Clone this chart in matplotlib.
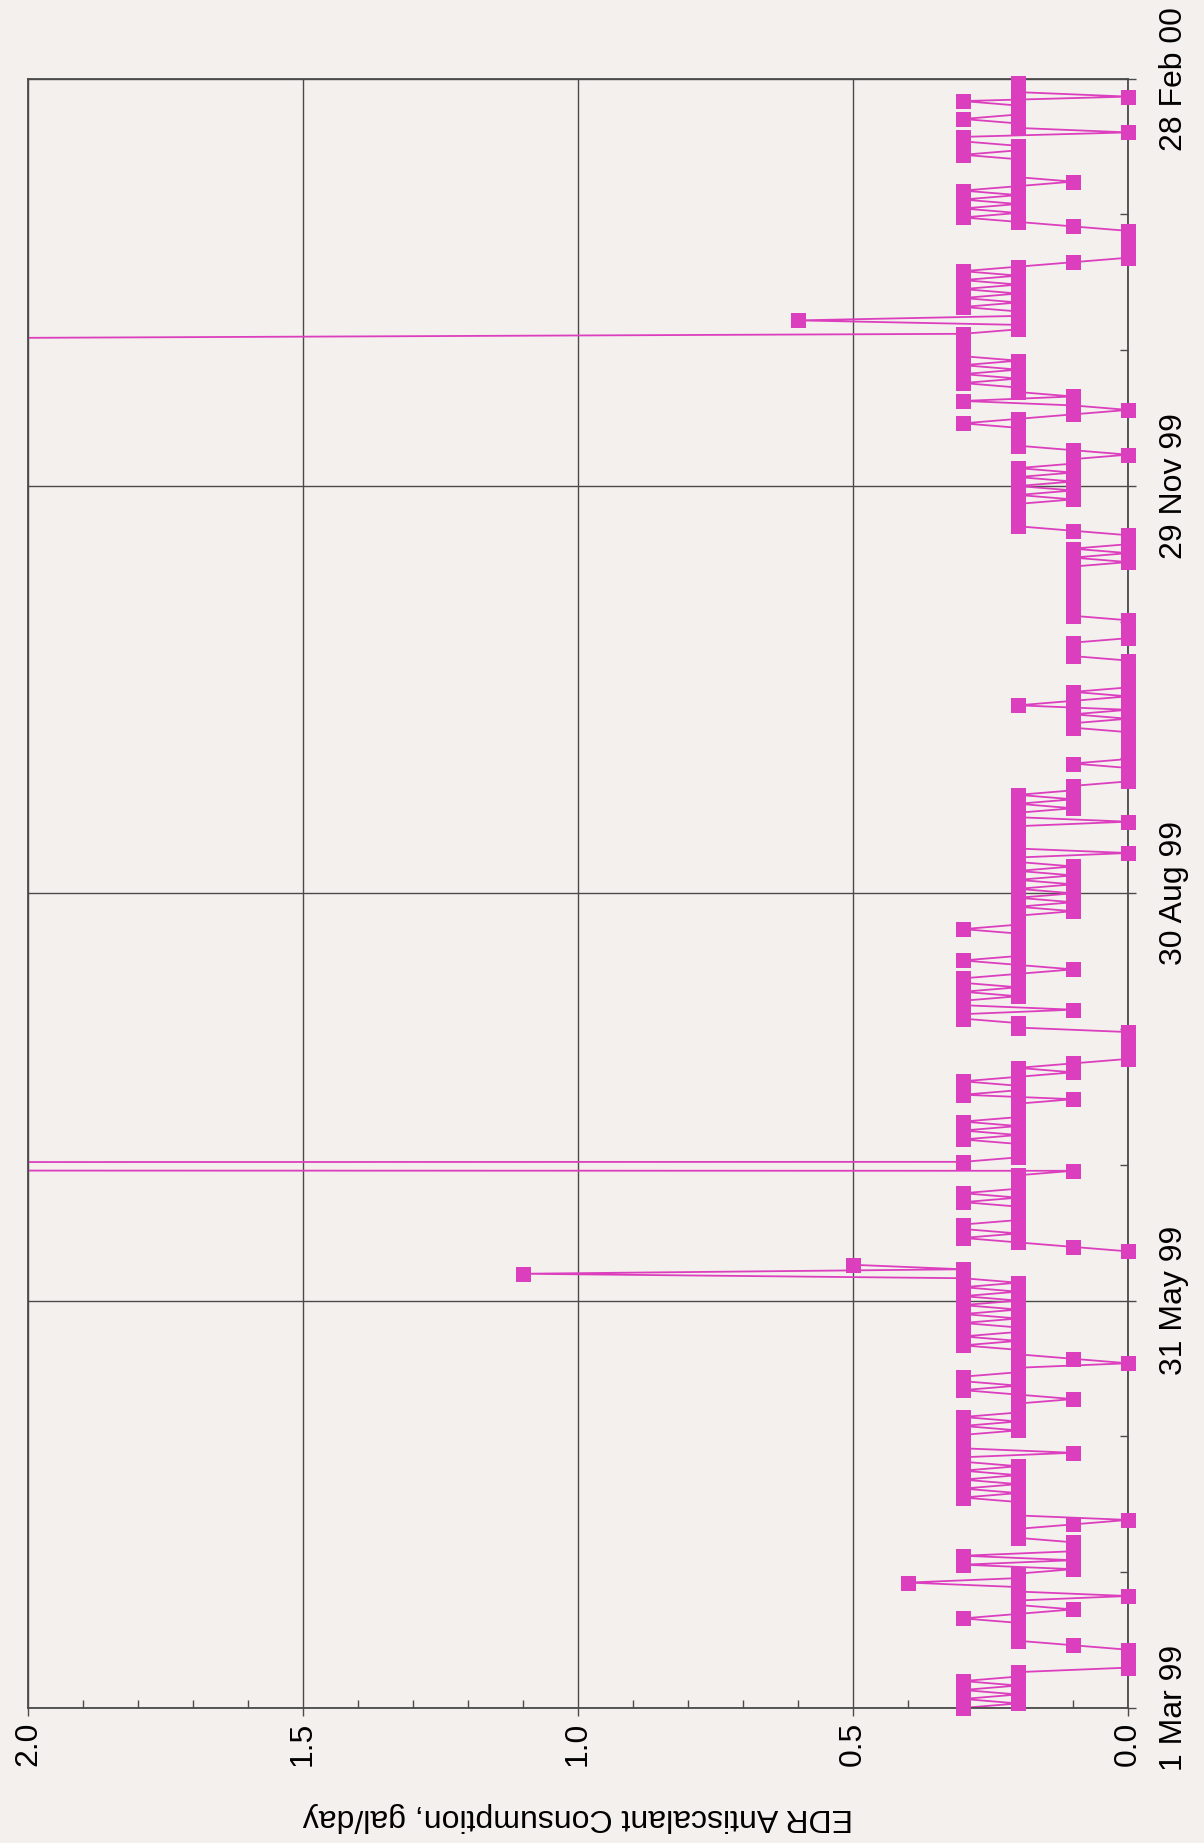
import numpy as np
import matplotlib
matplotlib.use("Agg")
from matplotlib import pyplot as plt
from matplotlib.ticker import MultipleLocator

plt.rcParams['font.family'] = ['Liberation Sans', 'DejaVu Sans']

# dates run up the page, consumption runs right to left (page turned sideways)
date_ticks = [0, 91, 182, 273, 364]
date_labels = ["1 Mar 99", "31 May 99", "30 Aug 99", "29 Nov 99", "28 Feb 00"]
gal_ticks = [0.0, 0.5, 1.0, 1.5, 2.0]
nan = np.nan

# daily consumption, gal/day, one value per day from 1 Mar 99
mar_may = [0.3, 0.2, 0.3, 0.2, 0.3, 0.2, 0.3, 0.2, 0.2,
           0.0, 0.0, 0.0, 0.0, 0.0, 0.1,
           0.2, 0.2, 0.2, 0.2, 0.2,
           0.3, 0.2, 0.1, 0.2, 0.2, 0.0, 0.2, 0.2, 0.4, 0.2, 0.2,
           0.1, 0.3, 0.1, 0.3, 0.1, 0.1, 0.1, 0.2, 0.2, 0.2, 0.1, 0.0, 0.2, 0.2,
           0.2, 0.2, 0.3, 0.2, 0.3, 0.2, 0.3, 0.2, 0.3, 0.2,
           0.3, 0.3, 0.1, 0.3, 0.3, 0.3, 0.3,
           0.2, 0.3, 0.2, 0.3, 0.2,
           0.2, 0.2, 0.1, 0.2, 0.3, 0.2, 0.3, 0.3, 0.2,
           0.2, 0.0, 0.1, 0.2, 0.2, 0.3, 0.2, 0.3,
           0.2, 0.2, 0.3, 0.2, 0.3, 0.2, 0.3]
jun_aug = [0.2, 0.3, 0.2, 0.3, 0.2,
           0.3, 1.1, 0.3, 0.5, nan, nan, 0.0, 0.1, 0.2,
           0.3, 0.2, 0.3, 0.3, 0.2, 0.2, 0.2, 0.2, 0.3, 0.2, 0.3, 0.2, 0.2, 0.2, 0.2, 0.1,
           40.0, 0.3, 0.2, 0.2, 0.2, 0.2, 0.3, 0.2, 0.3, 0.2,
           0.3, 0.2, 0.2, 0.2, 0.2, 0.1, 0.3, 0.2, 0.2, 0.3, 0.2, 0.1, 0.2, 0.1,
           0.0, 0.0, 0.0, 0.0, 0.0, 0.0, 0.0,
           0.2, 0.2, 0.3, 0.3, 0.1, 0.3, 0.3, 0.2, 0.3, 0.2, 0.3, 0.3, 0.2, 0.1, 0.2,
           0.3, 0.2, 0.2, 0.2, 0.2, 0.2, 0.2, 0.3, 0.2, 0.2, 0.2, 0.1, 0.2, 0.1, 0.2]
sep_nov = [0.1, 0.2, 0.1, 0.2, 0.1, 0.2, 0.1, 0.2, 0.2,
           0.0, 0.2, 0.2, 0.2, 0.2, 0.2, 0.2, 0.0, 0.2, 0.2,
           0.1, 0.2, 0.1, 0.2, 0.1, 0.1, 0.0, 0.0, 0.0, 0.0,
           0.1, 0.0, 0.0, 0.0, 0.0, 0.0, 0.0, 0.0, 0.1, 0.1,
           0.0, 0.1, 0.0, 0.2, 0.1, 0.0, 0.1, 0.0, 0.0, 0.0,
           0.0, 0.0, 0.0, 0.0, 0.1, 0.1, 0.1, 0.1, 0.0, 0.0,
           0.0, 0.0, 0.0, 0.1, 0.1, 0.1, 0.1, 0.1, 0.1, 0.1,
           0.1, 0.1, 0.1, 0.1, 0.1, 0.0, 0.1, 0.0, 0.1, 0.0,
           0.0, 0.0, 0.1, 0.2, 0.2, 0.2, 0.2, 0.2, 0.2, 0.1, 0.2, 0.1]
dec_feb = [0.2, 0.1, 0.2, 0.1, 0.2, 0.1, 0.1, 0.0, 0.1, 0.2,
           0.2, 0.2, 0.2, 0.2, 0.3, 0.2, 0.1, 0.0, 0.1, 0.3,
           0.1, 0.2, 0.2, 0.3, 0.2, 0.3, 0.2, 0.3, 0.2, 0.3, 0.3, 0.3,
           nan, 2.2, 0.3, 0.2, 0.2, 0.6, 0.2, 0.2,
           0.3, 0.2, 0.3, 0.2, 0.3, 0.2, 0.3, 0.2, 0.3, 0.2,
           0.1, 0.0, 0.0, 0.0, 0.0, 0.0, 0.0, 0.0, 0.1,
           0.2, 0.3, 0.2, 0.3, 0.2, 0.3, 0.2, 0.3, 0.2, 0.1,
           0.2, 0.2, 0.2, 0.2, 0.2, 0.3, 0.2, 0.2, 0.3, 0.3,
           0.0, 0.2, 0.2, 0.3, 0.2, 0.2, 0.2, 0.3, 0.0, 0.2, 0.2, 0.2]

vals = np.array(mar_may + jun_aug + sep_nov + dec_feb, dtype=float)
days = np.arange(len(vals))

pink = "#DC3FBE"
paper = "#F4F0EE"
grey = "#4A4A4A"
fs = 23

fig = plt.figure(figsize=(12.04, 18.43), dpi=100, facecolor=paper)
ax = fig.add_axes([0.0233, 0.0733, 0.9136, 0.884], facecolor=paper)
ax.set_axisbelow(True)

ax.plot(vals, days, color=pink, lw=1.3, zorder=2)
# markers outside 0-2 are off the chart, only their lines show
shown = np.where(vals <= 2.0, vals, np.nan)
ax.plot(shown, days, ls='none', marker='s', ms=10.8, mfc=pink, mec=pink, mew=0,
        clip_on=False, zorder=3)

ax.set_xlim(2.0, 0.0)
ax.set_ylim(0, 364)

ax.set_xticks(gal_ticks)
ax.set_xticklabels([f"{v:.1f}" for v in gal_ticks], rotation=90, fontsize=fs)
ax.xaxis.set_minor_locator(MultipleLocator(0.1))

ax.yaxis.tick_right()
ax.set_yticks(date_ticks)
ax.set_yticklabels(date_labels, rotation=90, va='center', fontsize=fs)
ax.yaxis.set_minor_locator(MultipleLocator(91 / 3))

ax.tick_params(axis='x', which='major', direction='out', length=6, width=1, color=grey, pad=4)
ax.tick_params(axis='x', which='minor', direction='in', length=6, width=1, color=grey)
ax.tick_params(axis='y', which='major', direction='out', length=6, width=1, color=grey, pad=16)
ax.tick_params(axis='y', which='minor', direction='in', length=6, width=1, color=grey)

ax.grid(True, which='major', color=grey, lw=1.0)
for s in ax.spines.values():
    s.set_color(grey)
    s.set_linewidth(1.3)

ax.text(0.5, -0.067, "EDR Antiscalant Consumption, gal/day", rotation=180,
        ha='center', va='center', transform=ax.transAxes, fontsize=fs)

fig.savefig("out.png", dpi=100, facecolor=paper)
